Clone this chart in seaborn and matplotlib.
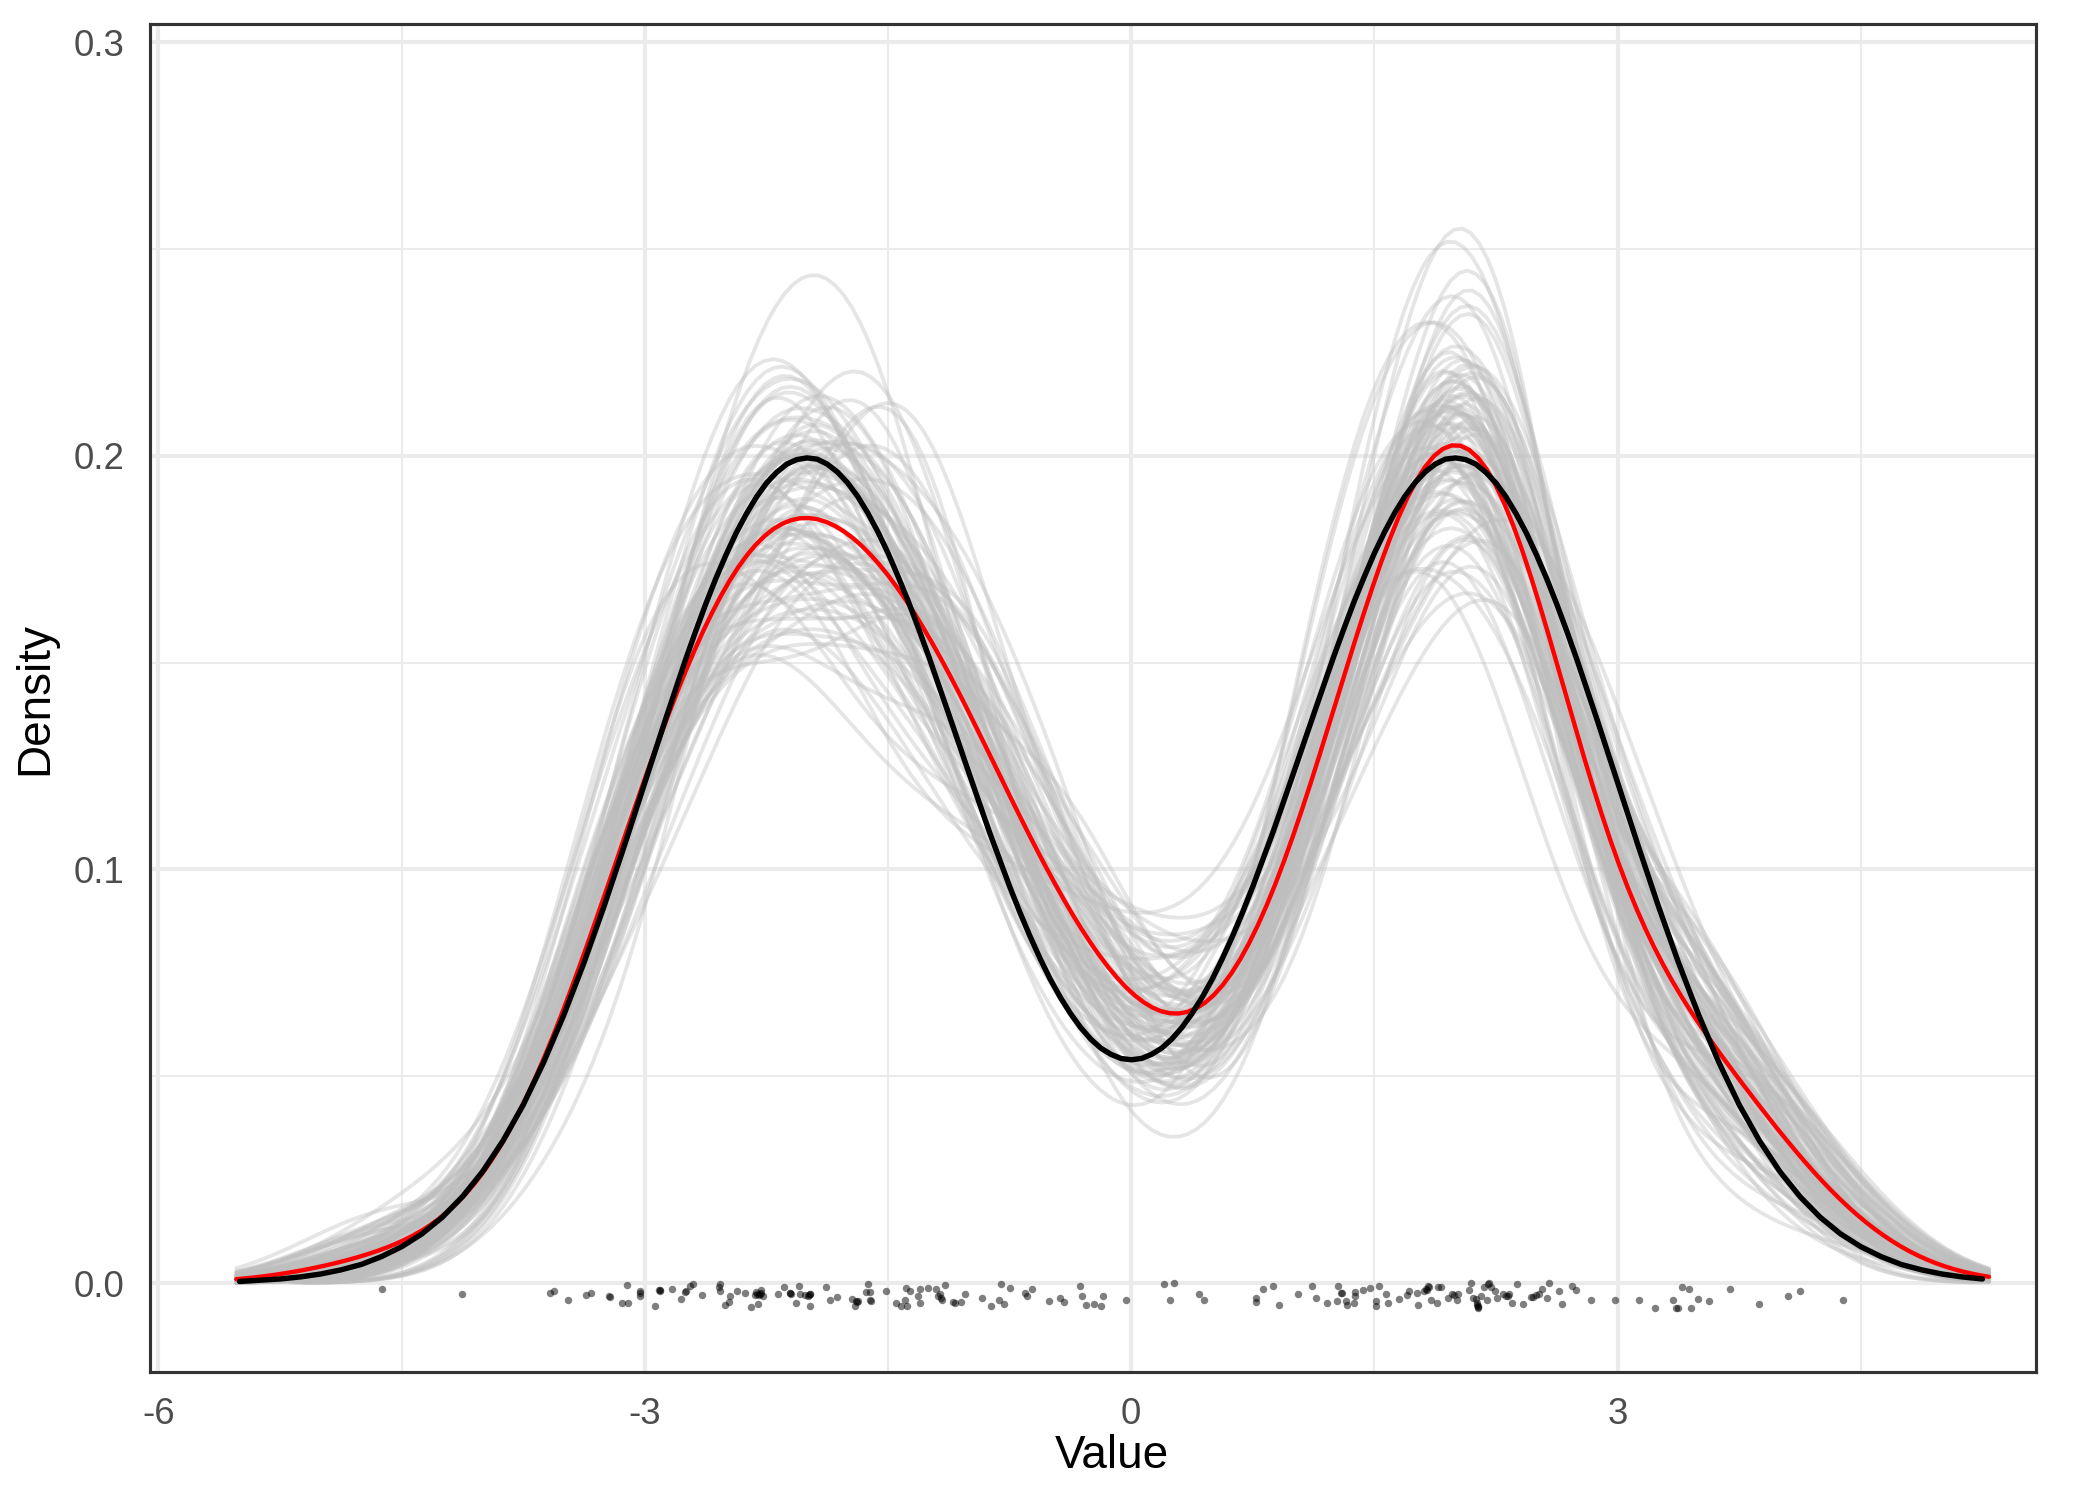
import numpy as np
import pandas as pd
import matplotlib
matplotlib.use("Agg")
import matplotlib.pyplot as plt
import seaborn as sns

# observed sample (x) with the vertical jitter used for the rug-like points (y)
# (overlapping dots in the darker clusters are listed more than once)
sample_x = [
    -4.624, -4.125, -3.586, -3.560, -3.477, -3.360, -3.329, -3.221, -3.212, -3.141, -3.110, -3.104,
    -3.027, -3.031, -3.029, -2.939, -2.912, -2.904, -2.908, -2.830, -2.774, -2.754, -2.744, -2.719,
    -2.703, -2.647, -2.538, -2.538, -2.541, -2.507, -2.483, -2.477, -2.429, -2.380, -2.343, -2.322,
    -2.312, -2.302, -2.292, -2.281, -2.271, -2.310, -2.295, -2.285, -2.176, -2.144, -2.107, -2.100,
    -2.103, -2.065, -2.049, -2.045, -2.014, -1.994, -1.990, -1.979, -1.979, -1.982, -1.880, -1.860,
    -1.815, -1.720, -1.706, -1.695, -1.686, -1.690, -1.634, -1.624, -1.613, -1.609, -1.603,
    -1.515, -1.453, -1.418, -1.398, -1.381, -1.387, -1.367, -1.316, -1.305, -1.301, -1.254, -1.202,
    -1.192, -1.182, -1.171, -1.165, -1.151, -1.100, -1.089, -1.052, -1.023, -0.921, -0.863, -0.818,
    -0.806, -0.787, -0.746, -0.658, -0.643, -0.613, -0.508, -0.442, -0.417, -0.313, -0.302, -0.282,
    -0.232, -0.189, -0.175, -0.035,
    0.205, 0.261, 0.240, 0.415, 0.446, 0.771, 0.771, 0.812, 0.873, 0.914, 1.027, 1.112, 1.142,
    1.206, 1.270, 1.278, 1.295, 1.301, 1.326, 1.332, 1.373, 1.381, 1.381, 1.432, 1.474, 1.510,
    1.510, 1.527,
    1.572, 1.582, 1.650, 1.699, 1.711, 1.763, 1.767, 1.804, 1.819, 1.822, 1.829, 1.835, 1.850, 1.884,
    1.890, 1.911, 1.952, 1.977, 1.993, 2.014, 2.008, 2.086, 2.096, 2.106, 2.127, 2.131, 2.137,
    2.141, 2.134, 2.139, 2.158, 2.174, 2.195, 2.199, 2.209, 2.219, 2.246, 2.256, 2.291, 2.312, 2.322,
    2.332, 2.347, 2.380, 2.419, 2.466, 2.480, 2.497, 2.513, 2.534, 2.565, 2.575, 2.641, 2.657, 2.719,
    2.744, 2.834, 2.986,
    3.134, 3.231, 3.339, 3.360, 3.370, 3.397, 3.442, 3.453, 3.498, 3.565, 3.695, 3.869, 4.048,
    4.126, 4.387,
]
sample_jitter = [
    -0.0015, -0.0026, -0.0024, -0.0018, -0.0042, -0.0028, -0.0024, -0.0032, -0.0034, -0.0048, -0.0004, -0.0048,
    -0.0020, -0.0030, -0.0025, -0.0056, -0.0016, -0.0018, -0.0017, -0.0014, -0.0038, -0.0022, -0.0020, -0.0006,
    -0.0002, -0.0028, -0.0002, -0.0018, -0.0010, -0.0054, -0.0046, -0.0032, -0.0020, -0.0024, -0.0058, -0.0028,
    -0.0022, -0.0050, -0.0026, -0.0016, -0.0030, -0.0027, -0.0029, -0.0024, -0.0026, -0.0010, -0.0024, -0.0026,
    -0.0025, -0.0048, -0.0006, -0.0026, -0.0028, -0.0030, -0.0029, -0.0026, -0.0056, -0.0027, -0.0010, -0.0042,
    -0.0033, -0.0038, -0.0056, -0.0044, -0.0044, -0.0045, -0.0022, -0.0002, -0.0022, -0.0040, -0.0044,
    -0.0018, -0.0048, -0.0056, -0.0042, -0.0056, -0.0012, -0.0020, -0.0032, -0.0048, -0.0014, -0.0012, -0.0014,
    -0.0030, -0.0026, -0.0036, -0.0040, -0.0004, -0.0046, -0.0048, -0.0046, -0.0026, -0.0036, -0.0056, -0.0040,
    -0.0002, -0.0050, -0.0012, -0.0024, -0.0032, -0.0014, -0.0043, -0.0036, -0.0046, -0.0006, -0.0030, -0.0054,
    -0.0050, -0.0056, -0.0032, -0.0040,
    -0.0002, 0.0000, -0.0042, -0.0026, -0.0041, -0.0036, -0.0046, -0.0014, -0.0006, -0.0052, -0.0026, -0.0008, -0.0035,
    -0.0048, -0.0044, -0.0006, -0.0024, -0.0024, -0.0044, -0.0054, -0.0048, -0.0022, -0.0032, -0.0016, -0.0012, -0.0044,
    -0.0056, -0.0008,
    -0.0026, -0.0047, -0.0038, -0.0028, -0.0019, -0.0024, -0.0052, -0.0019, -0.0014, -0.0016, -0.0006, -0.0010, -0.0042, -0.0049,
    -0.0010, -0.0010, -0.0035, -0.0027, -0.0028, -0.0027, -0.0042, -0.0016, 0.0000, -0.0035, -0.0038, -0.0048, -0.0056,
    -0.0059, -0.0052, -0.0057, -0.0032, -0.0010, -0.0040, -0.0002, 0.0000, -0.0010, -0.0020, -0.0036, -0.0026, -0.0030, -0.0032,
    -0.0026, -0.0047, -0.0002, -0.0050, -0.0034, -0.0034, -0.0028, -0.0026, -0.0015, -0.0035, 0.0000, -0.0019, -0.0051, -0.0006,
    -0.0016, -0.0040, -0.0041,
    -0.0040, -0.0059, -0.0040, -0.0059, -0.0059, -0.0010, -0.0015, -0.0059, -0.0038, -0.0044, -0.0015, -0.0051, -0.0032,
    -0.0019, -0.0042,
]

# true mixture density (symmetric about 0), x >= 0 half
true_x_half = [
    0.0, 0.0625, 0.125, 0.1875, 0.25, 0.3125, 0.375, 0.4375, 0.5, 0.5625, 0.625, 0.6875,
    0.75, 0.875, 1.0, 1.125, 1.25, 1.3125, 1.375, 1.4375, 1.5, 1.5625, 1.625, 1.6875,
    1.75, 1.8125, 1.875, 1.9375, 2.0, 2.0625, 2.125, 2.1875, 2.25, 2.3125, 2.375, 2.4375,
    2.5, 2.5625, 2.625, 2.6875, 2.75, 2.875, 3.0, 3.125, 3.25, 3.375, 3.5, 3.625, 3.75,
    3.875, 4.0, 4.125, 4.25, 4.375, 4.5, 4.625, 4.75, 4.875, 5.0, 5.125, 5.25, 5.375, 5.5,
]
true_density_half = [
    0.0540, 0.0543, 0.0553, 0.0568, 0.0590, 0.0618, 0.0652, 0.0691, 0.0735, 0.0785, 0.0839, 0.0897,
    0.0959, 0.1091, 0.1232, 0.1375, 0.1516, 0.1583, 0.1648, 0.1708, 0.1765, 0.1816, 0.1862, 0.1902,
    0.1935, 0.1961, 0.1980, 0.1992, 0.1995, 0.1991, 0.1980, 0.1960, 0.1934, 0.1900, 0.1859, 0.1813,
    0.1760, 0.1703, 0.1641, 0.1575, 0.1506, 0.1360, 0.1210, 0.1059, 0.0913, 0.0775, 0.0648, 0.0533,
    0.0431, 0.0344, 0.0270, 0.0209, 0.0159, 0.0119, 0.0088, 0.0064, 0.0045, 0.0032, 0.0022, 0.0015,
    0.0010, 0.0007, 0.0004,
]

n_boot = 100
bw_adjust = 0.7
grid_clip = (-5.52, 5.29)

x_ticks = [-6, -3, 0, 3]
y_ticks = [0.0, 0.1, 0.2, 0.3]

sns.set_theme(style="white")
plt.rcParams["font.family"] = ["Liberation Sans", "DejaVu Sans"]

fig = plt.figure(figsize=(7, 5), dpi=300)
ax = fig.add_axes([0.0712, 0.0853, 0.8983, 0.8987])

# bootstrap resamples of the observed sample (indices only, seeded)
obs = np.array(sample_x)
rng = np.random.default_rng(7)
for b in range(n_boot):
    idx = rng.integers(0, len(obs), len(obs))
    sns.kdeplot(x=obs[idx], ax=ax, bw_adjust=bw_adjust, cut=3, clip=grid_clip,
                color="#BEBEBE", alpha=0.4, linewidth=0.9)

# kde of the observed sample
sns.kdeplot(x=obs, ax=ax, bw_adjust=bw_adjust, cut=3, clip=grid_clip,
            color="red", linewidth=1.05)

# true density
true_df = pd.DataFrame({
    "x": [-v for v in true_x_half[::-1]] + true_x_half[1:],
    "y": true_density_half[::-1] + true_density_half[1:],
})
true_df = true_df[true_df["x"] <= 5.29]
sns.lineplot(data=true_df, x="x", y="y", ax=ax, color="black", linewidth=1.3)

pts = pd.DataFrame({"x": sample_x, "y": sample_jitter})
sns.scatterplot(data=pts, x="x", y="y", ax=ax, color="black", alpha=0.5,
                s=3.2, linewidth=0, zorder=5)

ax.set_xlim(-6.055, 5.58)
ax.set_ylim(-0.0215, 0.3044)
ax.set_xticks(x_ticks)
ax.set_xticklabels([str(t) for t in x_ticks])
ax.set_yticks(y_ticks)
ax.set_yticklabels([f"{t:.1f}" for t in y_ticks])
ax.set_xticks([-4.5, -1.5, 1.5, 4.5], minor=True)
ax.set_yticks([0.05, 0.15, 0.25], minor=True)

ax.grid(True, which="major", color="#EBEBEB", linewidth=1.0)
ax.grid(True, which="minor", color="#EBEBEB", linewidth=0.5)
ax.set_axisbelow(True)

ax.tick_params(axis="both", which="major", direction="out", length=3.5, width=0.7,
               color="#333333", labelsize=8.8, labelcolor="#4D4D4D", pad=2.5)
ax.tick_params(axis="both", which="minor", length=0)
for sp in ax.spines.values():
    sp.set_color("#333333")
    sp.set_linewidth(0.75)

ax.set_xlabel("Value", fontsize=11, color="black")
ax.set_ylabel("Density", fontsize=11, color="black")
ax.xaxis.set_label_coords(0.51, -0.046)
ax.yaxis.set_label_coords(-0.049, 0.5)

fig.savefig("out.png", dpi=300, facecolor="white")
